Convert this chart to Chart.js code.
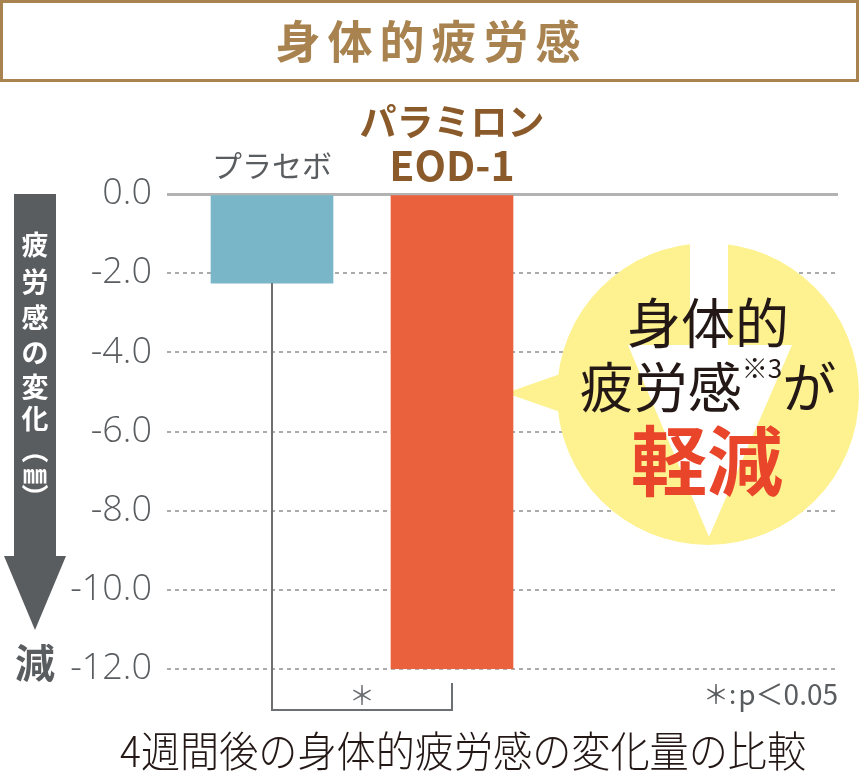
<!DOCTYPE html>
<html lang="ja">
<head>
<meta charset="utf-8">
<title>身体的疲労感</title>
<script src="https://cdn.jsdelivr.net/npm/chart.js@4/dist/chart.umd.min.js"></script>
<style>
  html, body { margin: 0; padding: 0; background: #fff; }
  canvas { display: block; }
</style>
</head>
<body>
<canvas id="fatigueChart" width="860" height="772"></canvas>
<script>
// data
const categories = ['プラセボ', 'パラミロン EOD-1'];
const fatigueChange = [-2.25, -12.0];          // 疲労感の変化 (mm), after 4 weeks
const yTickValues = [0, -2, -4, -6, -8, -10, -12];
const barColors = ['#78b6c8', '#ea613d'];

const JP = '"Noto Sans CJK JP", "Noto Sans", sans-serif';
const GRAY = '#5a5d60';
const BROWN = '#a8834f';

function centerText(ctx, text, x, y, font, color) {
    ctx.font = font;
    ctx.fillStyle = color;
    ctx.textAlign = 'center';
    ctx.textBaseline = 'middle';
    ctx.fillText(text, x, y);
}

// everything around the bars: title box, arrow, bubble, bracket, captions
const decorations = {
    id: 'decorations',
    beforeDatasetsDraw(chart) {
        const ctx = chart.ctx;
        ctx.save();
        // speech bubble (covers the grid, sits under the bar)
        ctx.fillStyle = '#fdf28f';
        ctx.beginPath();
        ctx.arc(708, 394, 151, 0, Math.PI * 2);
        ctx.fill();
        ctx.beginPath();
        ctx.moveTo(506, 393);
        ctx.lineTo(566, 372);
        ctx.lineTo(566, 414);
        ctx.closePath();
        ctx.fill();
        // white down arrow inside it
        ctx.fillStyle = '#ffffff';
        ctx.beginPath();
        ctx.moveTo(690, 242);
        ctx.lineTo(728, 242);
        ctx.lineTo(728, 345);
        ctx.lineTo(792, 345);
        ctx.lineTo(709, 537);
        ctx.lineTo(628, 345);
        ctx.lineTo(690, 345);
        ctx.closePath();
        ctx.fill();
        ctx.restore();
    },
    afterDraw(chart) {
        const ctx = chart.ctx;
        const x = chart.scales.x;
        const y = chart.scales.y;
        ctx.save();

        // title box
        ctx.strokeStyle = BROWN;
        ctx.lineWidth = 3;
        ctx.strokeRect(1.5, 1.5, 856, 79);
        const title = '身体的疲労感';
        for (let i = 0; i < title.length; i++) {
            centerText(ctx, title[i], 298 + i * 52, 42, 'bold 45px ' + JP, BROWN);
        }

        // labels above the bars
        const px0 = x.getPixelForValue(1);
        const px1 = x.getPixelForValue(2);
        centerText(ctx, categories[0], px0, 166, '30px ' + JP, GRAY);
        const parts = categories[1].split(' ');
        centerText(ctx, parts[0], px1, 122, 'bold 37px ' + JP, '#8b5a2b');
        centerText(ctx, parts[1], px1, 165, 'bold 41px ' + JP, '#8b5a2b');

        // bubble text
        const ink = '#231815';
        centerText(ctx, '身体的', 708, 323, '54px ' + JP, ink);
        ctx.font = '54px ' + JP;
        const w1 = ctx.measureText('疲労感').width;
        ctx.font = '26px ' + JP;
        const w2 = ctx.measureText('※3').width;
        ctx.font = '54px ' + JP;
        const w3 = ctx.measureText('が').width;
        let sx = 708 - (w1 + w2 + w3) / 2;
        ctx.textAlign = 'left';
        ctx.textBaseline = 'middle';
        ctx.fillStyle = ink;
        ctx.fillText('疲労感', sx, 387);
        ctx.font = '26px ' + JP;
        ctx.fillText('※3', sx + w1, 368);
        ctx.font = '54px ' + JP;
        ctx.fillText('が', sx + w1 + w2, 387);
        centerText(ctx, '軽減', 707, 461, 'bold 76px ' + JP, '#e8452a');

        // left arrow with vertical axis title
        ctx.fillStyle = GRAY;
        ctx.fillRect(14, y.getPixelForValue(0), 42, 557 - y.getPixelForValue(0));
        ctx.beginPath();
        ctx.moveTo(4, 556);
        ctx.lineTo(66, 556);
        ctx.lineTo(35, 630);
        ctx.closePath();
        ctx.fill();
        const vChars = ['疲', '労', '感', 'の', '変', '化'];
        const vY = [245, 282, 318, 353, 387, 419];
        vChars.forEach((c, i) => centerText(ctx, c, 35, vY[i], 'bold 27px ' + JP, '#ffffff'));
        [['（', 450], ['）', 497]].forEach(([c, cy]) => {
            ctx.save();
            ctx.translate(35, cy);
            ctx.rotate(Math.PI / 2);
            centerText(ctx, c, 0, 0, 'bold 27px ' + JP, '#ffffff');
            ctx.restore();
        });
        centerText(ctx, '㎜', 35, 474, 'bold 24px ' + JP, '#ffffff');
        centerText(ctx, '減', 35, 663, 'bold 40px ' + JP, GRAY);

        // significance bracket
        const barBottom = y.getPixelForValue(fatigueChange[0]);
        ctx.strokeStyle = '#6d7073';
        ctx.lineWidth = 2;
        ctx.beginPath();
        ctx.moveTo(px0, barBottom);
        ctx.lineTo(px0, 710);
        ctx.lineTo(px1, 710);
        ctx.lineTo(px1, 683);
        ctx.stroke();
        centerText(ctx, '＊', (px0 + px1) / 2, 695, '26px ' + JP, '#6d7073');

        // footnote
        ctx.fillStyle = GRAY;
        ctx.textAlign = 'right';
        ctx.textBaseline = 'middle';
        ctx.font = '28px ' + JP;
        const fn = 'p＜0.05';
        const fw = ctx.measureText(fn).width;
        ctx.fillText(fn, 838, 694);
        ctx.font = '26px ' + JP;
        ctx.fillText('＊:', 836 - fw, 694);

        // caption, squeezed to the reference width
        const caption = '4週間後の身体的疲労感の変化量の比較';
        ctx.font = '300 42px ' + JP;
        const cw = ctx.measureText(caption).width;
        const sc = Math.min(1, 686 / cw);
        ctx.save();
        ctx.translate(463, 751);
        ctx.scale(sc, 1);
        centerText(ctx, caption, 0, 0, '300 42px ' + JP, '#231815');
        ctx.restore();

        ctx.restore();
    }
};

new Chart(document.getElementById('fatigueChart'), {
    type: 'bar',
    data: {
        datasets: [{
            label: '疲労感の変化',
            data: fatigueChange.map((v, i) => ({ x: i + 1, y: v })),
            backgroundColor: barColors,
            borderWidth: 0,
            barThickness: 122
        }]
    },
    options: {
        responsive: false,
        animation: false,
        layout: { padding: { left: 0, top: 194, right: 22, bottom: 103 } },
        plugins: { legend: { display: false }, tooltip: { enabled: false } },
        scales: {
            x: {
                type: 'linear',
                display: false,
                offset: false,
                grid: { offset: false },
                min: 1 - 105 / 180,
                max: 1 - 105 / 180 + 671 / 180
            },
            y: {
                min: -12,
                max: 0,
                afterFit(scale) { scale.width = 167; },
                afterBuildTicks(scale) { scale.ticks = yTickValues.map(v => ({ value: v })); },
                ticks: {
                    padding: 15,
                    color: GRAY,
                    font: { family: '"Open Sans", sans-serif', size: 36, weight: '300' },
                    callback: v => v.toFixed(1)
                },
                grid: {
                    drawTicks: false,
                    color: c => (c.tick && c.tick.value === 0) ? '#b3b3b3' : '#ababab',
                    lineWidth: c => (c.tick && c.tick.value === 0) ? 3 : 2
                },
                border: {
                    display: false,
                    dash: c => (c.tick && c.tick.value === 0) ? [] : [4, 4]
                }
            }
        }
    },
    plugins: [decorations]
});
</script>
</body>
</html>
